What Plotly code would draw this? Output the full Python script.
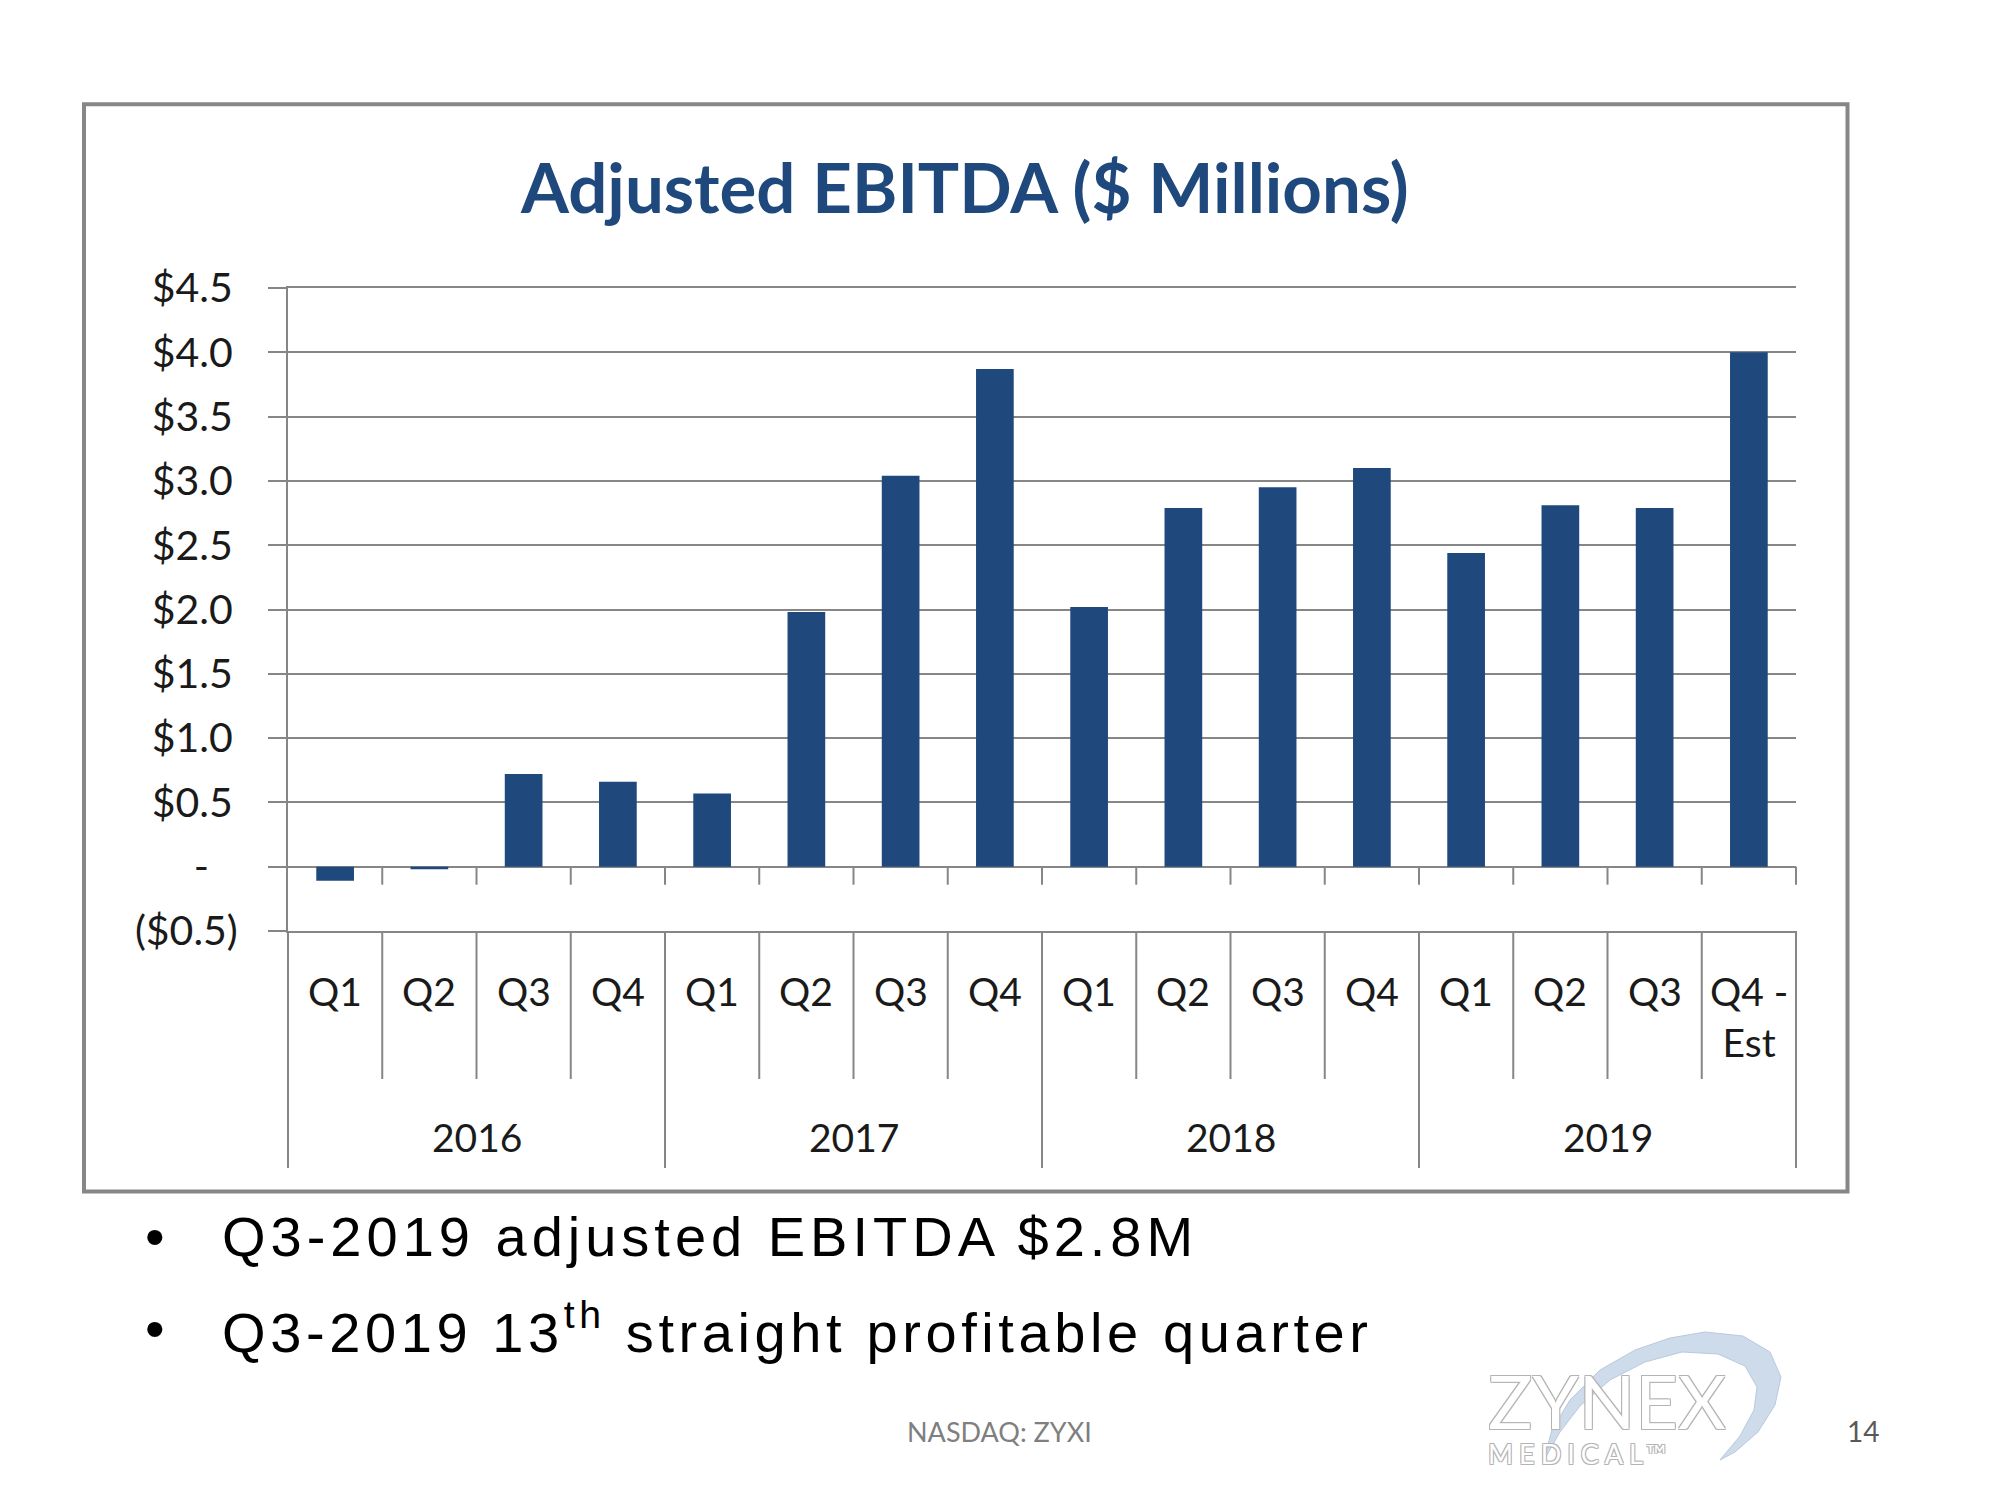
import plotly.graph_objects as go

# ---------------- data ----------------
years = ["2016", "2016", "2016", "2016",
         "2017", "2017", "2017", "2017",
         "2018", "2018", "2018", "2018",
         "2019", "2019", "2019", "2019"]
quarters = ["Q1", "Q2", "Q3", "Q4",
            "Q1", "Q2", "Q3", "Q4",
            "Q1", "Q2", "Q3", "Q4",
            "Q1", "Q2", "Q3", "Q4 -<br>Est"]
ebitda = [-0.11, -0.02, 0.72, 0.66,
          0.57, 1.98, 3.04, 3.87,
          2.02, 2.79, 2.95, 3.10,
          2.44, 2.81, 2.79, 4.00]
ytick_vals = [-0.5, 0.0, 0.5, 1.0, 1.5, 2.0, 2.5, 3.0, 3.5, 4.0, 4.5]
ytick_text = ["($0.5)", "-\u2007\u2009", "$0.5\u2009", "$1.0\u2009", "$1.5\u2009",
              "$2.0\u2009", "$2.5\u2009", "$3.0\u2009", "$3.5\u2009",
              "$4.0\u2009", "$4.5\u2009"]
title_text = "Adjusted EBITDA ($ Millions)"
bullet_lines = ["Q3-2019 adjusted EBITDA $2.8M",
                "Q3-2019 13<sup>th</sup> straight profitable quarter"]

# ---------------- layout helpers ----------------
OFF = 8                      # page body margin of the html page
W, H = 2000 - OFF, 1500 - OFF
PL, PR, PT, PB = 288, 1796, 288, 931   # plot area in page pixels


def px(x):
    return (x - PL) / (PR - PL)


def py(y):
    return (PB - y) / (PB - PT)


GRID = "#868686"
BAR = "#1F497D"
TXT = "#1a1a1a"
FONT = "Lato"

cats = [f"{y} {q.split('<br>')[0]}" for y, q in zip(years, quarters)]
n = len(cats)

fig = go.Figure()
fig.add_trace(go.Bar(x=cats, y=ebitda, marker=dict(color=BAR, line=dict(width=0)),
                     showlegend=False, hoverinfo="x+y"))

shapes = []
annotations = []

# tiny ticks at zero line on category boundaries
tick_len = 18 / ((PB - PT) / 5.0)
for i in range(n - 1):
    shapes.append(dict(type="line", xref="x", yref="y", x0=i + 0.5, x1=i + 0.5,
                       y0=0, y1=-tick_len, line=dict(color=GRID, width=2)))
shapes.append(dict(type="line", xref="x domain", yref="y", x0=1, x1=1,
                   y0=0, y1=-tick_len, line=dict(color=GRID, width=2)))

# category table dividers
q_bottom = py(1079)
y_bottom = py(1168)
for i in range(n - 1):
    is_year = years[i] != years[i + 1]
    shapes.append(dict(type="line", xref="x", yref="paper", x0=i + 0.5, x1=i + 0.5,
                       y0=0, y1=y_bottom if is_year else q_bottom,
                       line=dict(color=GRID, width=2)))
for xd in (0, 1):
    shapes.append(dict(type="line", xref="x domain", yref="paper", x0=xd, x1=xd,
                       y0=0, y1=y_bottom, line=dict(color=GRID, width=2)))

# outer frame
shapes.append(dict(type="rect", xref="paper", yref="paper",
                   x0=px(84), x1=px(1847.5), y0=py(1191.5), y1=py(104.3),
                   line=dict(color="#878787", width=4), fillcolor="rgba(0,0,0,0)",
                   layer="below"))

# logo swoosh (decorative)
outer = [(1543, 1462), (1552, 1430), (1570, 1400), (1600, 1370), (1635, 1350),
         (1670, 1338), (1705, 1332), (1743, 1336), (1770, 1352), (1781, 1377),
         (1775, 1405), (1758, 1432), (1735, 1452), (1720, 1460)]
inner = [(1740, 1436), (1754, 1410), (1757, 1387), (1745, 1366), (1718, 1354),
         (1682, 1352), (1645, 1362), (1610, 1380), (1580, 1406), (1560, 1432)]
pts = outer + inner
path = "M " + " L ".join(f"{px(a):.5f},{py(b):.5f}" for a, b in pts) + " Z"
shapes.append(dict(type="path", xref="paper", yref="paper", path=path,
                   fillcolor="#cddbeb", line=dict(color="#b9c9dd", width=1),
                   layer="above"))

# quarter labels
for c, q in zip(cats, quarters):
    annotations.append(dict(x=c, xref="x", y=py(966), yref="paper", text=q,
                            showarrow=False, xanchor="center", yanchor="top",
                            font=dict(family=FONT, size=39, color=TXT)))
# year labels (centered over each year's block)
uniq = []
for i, y in enumerate(years):
    if not uniq or uniq[-1][0] != y:
        uniq.append([y, i, i])
    else:
        uniq[-1][2] = i
for y, a, b in uniq:
    annotations.append(dict(x=(a + b) / 2, xref="x", y=py(1137), yref="paper",
                            text=y, showarrow=False, xanchor="center",
                            yanchor="middle",
                            font=dict(family=FONT, size=39, color=TXT)))

# title
annotations.append(dict(x=px(964), xref="paper", y=py(187), yref="paper",
                        text=f"<b>{title_text}</b>", showarrow=False,
                        xanchor="center", yanchor="middle",
                        font=dict(family=FONT, size=69, color=BAR)))

# bullets
for k, (line, ycen, ls) in enumerate(zip(bullet_lines, [1236, 1328], [5, 4.6])):
    annotations.append(dict(x=px(155), xref="paper", y=py(ycen), yref="paper",
                            text="\u2022", showarrow=False, xanchor="center",
                            yanchor="middle",
                            font=dict(family="Liberation Sans", size=56, color="#000")))
    annotations.append(dict(x=px(220), xref="paper", y=py(ycen), yref="paper",
                            text=f'<span style="letter-spacing:{ls}px">{line}</span>',
                            showarrow=False, xanchor="left", yanchor="middle",
                            font=dict(family="Liberation Sans", size=56, color="#000")))

# footer
annotations.append(dict(x=px(999), xref="paper", y=py(1431), yref="paper",
                        text="NASDAQ: ZYXI", showarrow=False, xanchor="center",
                        yanchor="middle", font=dict(family=FONT, size=27, color="#7f7f7f")))
annotations.append(dict(x=px(1863), xref="paper", y=py(1431), yref="paper",
                        text="14", showarrow=False, xanchor="center",
                        yanchor="middle", font=dict(family=FONT, size=28, color="#595959")))
outline = "-1px -1px 0 #b4b4b4, 1px -1px 0 #b4b4b4, -1px 1px 0 #b4b4b4, 1px 1px 0 #b4b4b4"
annotations.append(dict(x=px(1486), xref="paper", y=py(1472), yref="paper",
                        text=('<span style="font-size:74px">ZYNEX</span><br>'
                              '<span style="letter-spacing:6px">MEDICAL™</span>'),
                        showarrow=False, xanchor="left", yanchor="bottom", align="left",
                        font=dict(family=FONT, size=27, color="#ffffff", shadow=outline)))

fig.update_layout(
    width=W, height=H, autosize=False,
    margin=dict(l=PL - OFF, r=(W + OFF) - PR, t=PT - OFF, b=(H + OFF) - PB, pad=0),
    paper_bgcolor="white", plot_bgcolor="white",
    bargap=0.6,
    shapes=shapes, annotations=annotations,
    showlegend=False,
)
fig.update_xaxes(type="category", range=[-0.5, n - 0.5], showticklabels=False,
                 ticks="", showgrid=False, zeroline=False,
                 showline=True, mirror=True, linecolor=GRID, linewidth=2,
                 fixedrange=True)
fig.update_yaxes(range=[-0.5, 4.5], tickmode="array", tickvals=ytick_vals,
                 ticktext=ytick_text, showgrid=True, gridcolor=GRID, gridwidth=2,
                 zeroline=True, zerolinecolor=GRID, zerolinewidth=2,
                 showline=True, linecolor=GRID, linewidth=2,
                 ticks="outside", ticklen=18, tickcolor=GRID, tickwidth=2,
                 ticklabelstandoff=22,
                 tickfont=dict(family=FONT, size=41, color=TXT), fixedrange=True)

fig.write_html("out.html")
